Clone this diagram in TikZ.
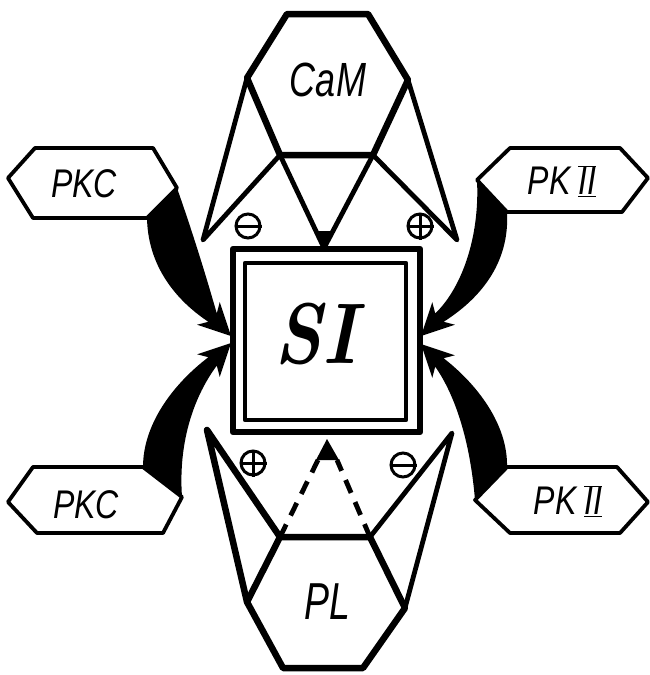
\documentclass[tikz,border=0pt]{standalone}
\usepackage{fontspec}
\newfontfamily\draftfont{Liberation Sans}
\begin{document}
\begin{tikzpicture}[x=1pt,y=-1pt,
    heavy/.style={line width=6.5pt, line join=round, line cap=round},
    light/.style={line width=4.8pt, line join=round, line cap=round},
    tagline/.style={line width=3.8pt, line join=round},
    sign/.style={circle, draw, line width=3pt, inner sep=0pt, minimum size=24pt},
    flow/.style={fill=black},
    lbl/.style={font=\draftfont\itshape, inner sep=0pt}]
        \useasboundingbox (0,0) rectangle (649,675);

        % Central block
        \draw[heavy] (233,249) rectangle (420,432);
        \draw[light] (245,263) rectangle (406,420);
        \node (si) at (316,334) [inner sep=0pt] {\scalebox{0.85}[1]{\fontsize{86}{86}\selectfont\bfseries\itshape SI}};

        % Upper hexagon (CaM)
        \coordinate (t1) at (287,14);
        \coordinate (t2) at (368,14);
        \coordinate (tr) at (408,80);
        \coordinate (tbr) at (373,155);
        \coordinate (tbl) at (280,155);
        \coordinate (tl) at (247,78);
        \coordinate (tol) at (203,240);
        \coordinate (tor) at (457,240);
        \coordinate (tapex) at (324,248);
        \draw[heavy] (t1) -- (t2) -- (tr) -- (tbr) -- (tbl) -- (tl) -- cycle;
        \draw[light] (tl) -- (tol) -- (tbl) -- (tapex) -- (tbr) -- (tor) -- (tr);
        \fill (316,231) -- (333,231) -- (tapex) -- cycle;
        \node (cam) at (328,80) [lbl] {\scalebox{0.75}[1]{\fontsize{48}{48}\selectfont CaM}};
        \node (tminus) at (248,226) [sign] {};
        \node (tplus) at (420,226) [sign] {};
        \draw[line width=3pt] (tminus.west) -- (tminus.east);
        \draw[line width=3pt] (tplus.west) -- (tplus.east) (tplus.north) -- (tplus.south);

        % Lower hexagon (PL)
        \coordinate (b1) at (280,537);
        \coordinate (b2) at (370,537);
        \coordinate (br) at (405,608);
        \coordinate (bbr) at (363,668);
        \coordinate (bbl) at (283,668);
        \coordinate (bl) at (247,602);
        \coordinate (bol) at (207,430);
        \coordinate (bor) at (452,433);
        \draw[heavy] (b1) -- (b2) -- (br) -- (bbr) -- (bbl) -- (bl) -- cycle;
        \draw[heavy] (bl) -- (bol) -- (b1);
        \draw[light] (br) -- (bor) -- (b2);
        \draw[light, line cap=butt, dash pattern=on 14pt off 10pt] (b1) -- (318,460);
        \draw[light, line cap=butt, dash pattern=on 14pt off 10pt] (b2) -- (337,460);
        \fill (316,460) -- (339,460) -- (327,439) -- cycle;
        \node (pl) at (327,602) [lbl] {\scalebox{0.72}[1]{\fontsize{52}{52}\selectfont PL}};
        \node (bplus) at (253,463) [sign] {};
        \node (bminus) at (403,465) [sign] {};
        \draw[line width=3pt] (bplus.west) -- (bplus.east) (bplus.north) -- (bplus.south);
        \draw[line width=3pt] (bminus.west) -- (bminus.east);

        % Side tags
        \draw[tagline] (8,178) -- (35,148) -- (153,148) -- (177,188) -- (147,218) -- (33,218) -- cycle;
        \draw[tagline] (8,502) -- (33,467) -- (143,467) -- (182,497) -- (163,533) -- (37,533) -- cycle;
        \draw[tagline] (477,180) -- (510,148) -- (620,148) -- (648,178) -- (622,212) -- (507,212) -- cycle;
        \draw[tagline] (475,500) -- (507,467) -- (617,467) -- (648,502) -- (620,533) -- (510,533) -- cycle;
        \node (pkcup) at (84,184) [lbl] {\scalebox{0.8}[1]{\fontsize{40}{40}\selectfont PKC}};
        \node (pkcdown) at (86,505) [lbl] {\scalebox{0.8}[1]{\fontsize{40}{40}\selectfont PKC}};
        \node (pkup) at (562,181) [lbl] {\scalebox{0.8}[1]{\fontsize{40}{40}\selectfont PK\hspace{10pt}$\overline{\underline{\mbox{\draftfont\itshape II}}}$}};
        \node (pkdown) at (568,501) [lbl] {\scalebox{0.8}[1]{\fontsize{40}{40}\selectfont PK\hspace{10pt}$\overline{\underline{\mbox{\draftfont\itshape II}}}$}};

        % Curved arrows into the block
        \fill[flow] (177,188) .. controls (197,245) and (210,290) .. (216.8,313.4) -- (219.7,302.1) -- (231,336)
          -- (197.1,324.7) -- (208.4,321.8) .. controls (183,305) and (148,272) .. (147,218) -- cycle;
        \fill[flow] (182,497) .. controls (178,440) and (195,395) .. (216.8,365.6) -- (219.7,376.9) -- (231,343)
          -- (197.1,354.3) -- (208.4,357.2) .. controls (172,385) and (143,425) .. (143,467) -- cycle;
        \fill[flow] (477,180) .. controls (480,240) and (460,290) .. (435.2,313.4) -- (432.3,302.1) -- (421,336)
          -- (454.9,324.7) -- (443.6,321.8) .. controls (478,300) and (510,265) .. (507,212) -- cycle;
        \fill[flow] (475,500) .. controls (470,440) and (455,395) .. (435.2,366.6) -- (432.3,377.9) -- (421,344)
          -- (454.9,355.3) -- (443.6,358.2) .. controls (478,385) and (508,425) .. (507,467) -- cycle;
\end{tikzpicture}
\end{document}
